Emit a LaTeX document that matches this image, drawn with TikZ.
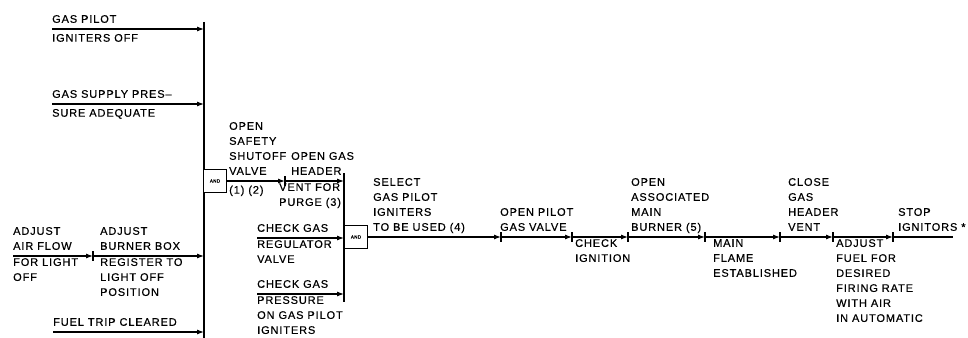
\documentclass[tikz,border=0pt]{standalone}
\usepackage{fontspec}
\setmainfont{Liberation Sans}[LetterSpace=8, FakeBold=0.5]
\usetikzlibrary{arrows.meta}

\begin{document}
\begin{tikzpicture}[
    x=1pt, y=-1pt,
    font=\fontsize{11}{15}\selectfont,
    flow/.style={-{Latex[length=7pt,width=5pt]}, line width=1.1pt},
    plain/.style={line width=1.1pt},
    bar/.style={line width=1.3pt},
    andbox/.style={draw, fill=white, line width=0.9pt, minimum width=23pt, minimum height=23pt, inner sep=0pt, font=\fontsize{4.5}{5}\selectfont},
    txtup/.style={anchor=south west, inner sep=0pt, align=left, execute at end node=\strut},
    txtdn/.style={anchor=north west, inner sep=0pt, align=left, execute at begin node=\strut},
]
\useasboundingbox (0,0) rectangle (968,337);
\clip (0,0) rectangle (968,337);

% Main bar and its inputs
\coordinate (s1) at (52,29);
\coordinate (s2) at (52,104);
\coordinate (sa) at (13,256);
\coordinate (ea) at (93,256);
\coordinate (s5) at (53,332);
\coordinate (m1) at (204,29);
\coordinate (m2) at (204,104);
\coordinate (m3) at (204,256);
\coordinate (m5) at (204,332);
\draw[bar] (204,22) -- (204,340);
\draw[flow] (s1) -- (m1);
\draw[flow] (s2) -- (m2);
\draw[flow] (sa) -- (ea);
\draw[flow] (ea) -- (m3);
\draw[flow] (s5) -- (m5);
\node[txtup] (t1a) at (52,27.5) {GAS PILOT};
\node[txtdn] (t1b) at (52,31) {IGNITERS OFF};
\node[txtup] (t2a) at (52,102.5) {GAS SUPPLY PRES--};
\node[txtdn] (t2b) at (52,106) {SURE ADEQUATE};
\node[txtup] (t3a) at (13,254.5) {ADJUST\\AIR FLOW};
\node[txtdn] (t3b) at (13,258) {FOR LIGHT\\OFF};
\node[txtup] (t4a) at (100,254.5) {ADJUST\\BURNER BOX};
\node[txtdn] (t4b) at (100,258) {REGISTER TO\\LIGHT OFF\\POSITION};
\node[txtup] (t5a) at (53,330.5) {FUEL TRIP CLEARED};

% First AND and the gas header
\node[andbox] (and1) at (215,181) {AND};
\coordinate (e1) at (285,181);
\coordinate (h1) at (344,181);
\draw[flow] (and1.east) -- (e1);
\draw[flow] (e1) -- (h1);
\node[txtup] (t6a) at (229,179.5) {OPEN\\SAFETY\\SHUTOFF\\VALVE};
\node[txtdn] (t6b) at (229,183) {(1) (2)};
\node[txtup] (t7a) at (291,179.5) {OPEN GAS\\HEADER};
\node[txtdn] (t7b) at (279,183) {VENT FOR\\PURGE (3)};

% Second bar and its inputs
\coordinate (s3) at (257,238);
\coordinate (s4) at (257,294);
\coordinate (h3) at (344,238);
\coordinate (h4) at (344,294);
\draw[bar] (344,173) -- (344,302);
\draw[flow] (s3) -- (h3);
\draw[flow] (s4) -- (h4);
\node[txtup] (t8a) at (257,236.5) {CHECK GAS};
\node[txtdn] (t8b) at (257,240) {REGULATOR\\VALVE};
\node[txtup] (t9a) at (257,292.5) {CHECK GAS};
\node[txtdn] (t9b) at (257,296) {PRESSURE\\ON GAS PILOT\\IGNITERS};

% Light off sequence
\node[andbox] (and2) at (356,237) {AND};
\coordinate (e2) at (501,237);
\coordinate (e3) at (572,237);
\coordinate (e4) at (628,237);
\coordinate (e5) at (705,237);
\coordinate (e6) at (780,237);
\coordinate (e7) at (833,237);
\coordinate (e8) at (893,237);
\coordinate (fin) at (953,237);
\draw[flow] (and2.east) -- (e2);
\draw[flow] (e2) -- (e3);
\draw[flow] (e3) -- (e4);
\draw[flow] (e4) -- (e5);
\draw[flow] (e5) -- (e6);
\draw[flow] (e6) -- (e7);
\draw[flow] (e7) -- (e8);
\draw[plain] (e8) -- (fin);
\foreach \e in {ea,e1,e2,e3,e4,e5,e6,e7,e8}
  \draw[bar] (\e) ++(0,-5) -- ++(0,10);
\node[txtup] (u2) at (373,235.5) {SELECT\\GAS PILOT\\IGNITERS\\TO BE USED (4)};
\node[txtup] (u3) at (500,235.5) {OPEN PILOT\\GAS VALVE};
\node[txtdn] (u4) at (575,239) {CHECK\\IGNITION};
\node[txtup] (u5) at (631,235.5) {OPEN\\ASSOCIATED\\MAIN\\BURNER (5)};
\node[txtdn] (u6) at (713,239) {MAIN\\FLAME\\ESTABLISHED};
\node[txtup] (u7) at (788,235.5) {CLOSE\\GAS\\HEADER\\VENT};
\node[txtdn] (u8) at (836,239) {ADJUST\\FUEL FOR\\DESIRED\\FIRING RATE\\WITH AIR\\IN AUTOMATIC};
\node[txtup] (u9) at (898,235.5) {STOP\\IGNITORS *};

\end{tikzpicture}
\end{document}
